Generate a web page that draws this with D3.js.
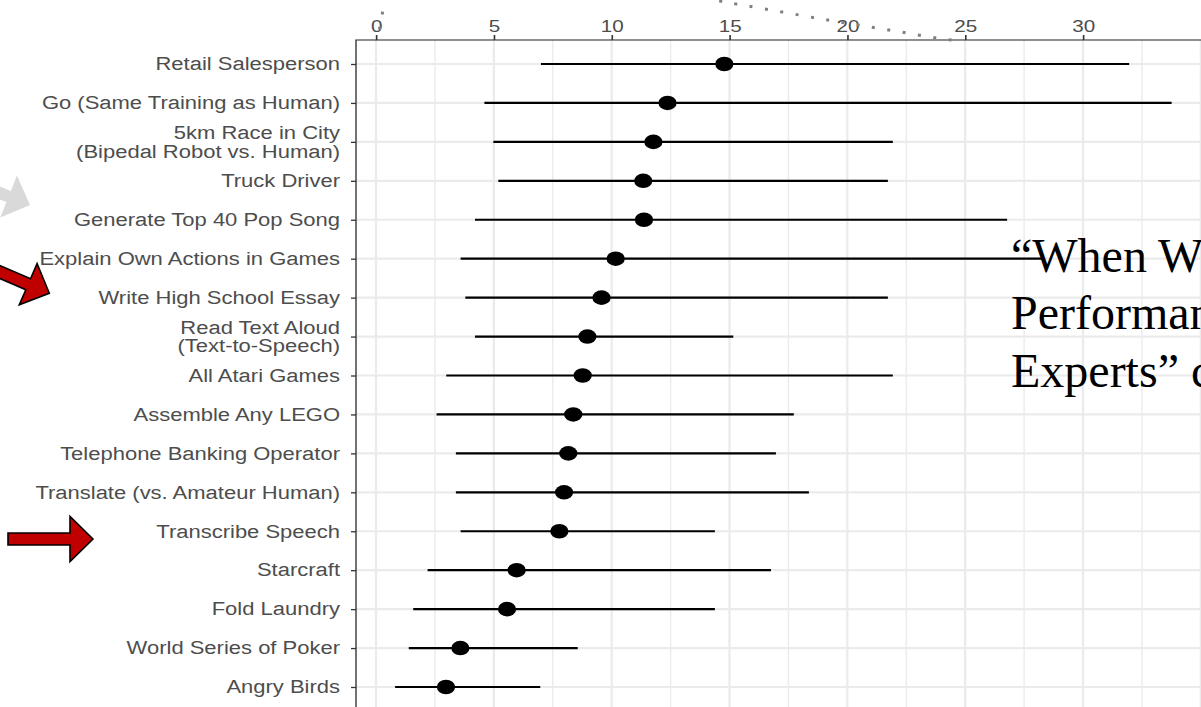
<!DOCTYPE html>
<html><head><meta charset="utf-8">
<script src="https://cdn.jsdelivr.net/npm/d3@7"></script>
<style>html,body{margin:0;padding:0;background:#fff;overflow:hidden}</style>
</head><body><svg id="c" width="1201" height="707"></svg>
<script>
// ---- data ----
const categories = [
  "Retail Salesperson",
  "Go (Same Training as Human)",
  "5km Race in City\n(Bipedal Robot vs. Human)",
  "Truck Driver",
  "Generate Top 40 Pop Song",
  "Explain Own Actions in Games",
  "Write High School Essay",
  "Read Text Aloud\n(Text-to-Speech)",
  "All Atari Games",
  "Assemble Any LEGO",
  "Telephone Banking Operator",
  "Translate (vs. Amateur Human)",
  "Transcribe Speech",
  "Starcraft",
  "Fold Laundry",
  "World Series of Poker",
  "Angry Birds"
];
const medians = [14.78,12.37,11.77,11.34,11.37,10.17,9.57,8.97,8.77,8.37,8.16,7.98,7.78,5.97,5.56,3.58,2.97];
const lower   = [7.0,4.6,4.98,5.19,4.2,3.59,3.79,4.2,2.98,2.57,3.39,3.39,3.59,2.19,1.58,1.39,0.81];
const upper   = [31.96,33.76,21.93,21.72,26.78,28.3,21.72,15.16,21.93,17.73,16.97,18.37,14.38,16.76,14.38,8.56,6.97];
const xTicks = [0,5,10,15,20,25,30];
const titleLines = ["\u201CWhen Will AI Exceed Human","Performance? Evidence from AI","Experts\u201D conducted in 2016"];

// ---- layout ----
const SX = 1.25; // horizontal stretch of the embedded chart image
const svg = d3.select("#c");
const g = svg.append("g").attr("transform", `scale(${SX},1)`);

const x = d3.scaleLinear().domain([0, 30]).range([376 / SX, 1083 / SX]);
const y = d3.scalePoint().domain(categories).range([64, 687]);
const panelL = 356 / SX, panelT = 40, panelR = x(35.45), panelB = 730;

const grid = "#ebebeb";
// minor vertical grid
g.append("g").selectAll("line").data(d3.range(2.5, 35, 5)).join("line")
  .attr("x1", d => x(d)).attr("x2", d => x(d))
  .attr("y1", panelT).attr("y2", panelB)
  .attr("stroke", grid).attr("stroke-width", 1.1);
// major vertical grid
g.append("g").selectAll("line").data(d3.range(0, 36, 5)).join("line")
  .attr("x1", d => x(d)).attr("x2", d => x(d))
  .attr("y1", panelT).attr("y2", panelB)
  .attr("stroke", grid).attr("stroke-width", 1.8);
// horizontal grid
g.append("g").selectAll("line").data(categories).join("line")
  .attr("x1", panelL).attr("x2", panelR)
  .attr("y1", d => y(d)).attr("y2", d => y(d))
  .attr("stroke", grid).attr("stroke-width", 2.2);

// error bars
g.append("g").selectAll("line").data(categories).join("line")
  .attr("x1", (d, i) => x(lower[i])).attr("x2", (d, i) => x(upper[i]))
  .attr("y1", d => y(d)).attr("y2", d => y(d))
  .attr("stroke", "#000").attr("stroke-width", 2.2);
// points
g.append("g").selectAll("circle").data(categories).join("circle")
  .attr("cx", (d, i) => x(medians[i])).attr("cy", d => y(d))
  .attr("r", 7.3).attr("fill", "#000");

// panel border
g.append("rect").attr("x", panelL).attr("y", panelT)
  .attr("width", panelR - panelL).attr("height", panelB - panelT)
  .attr("fill", "none").attr("stroke", "#333").attr("stroke-width", 1.1);

// top axis
const ax = g.append("g").attr("transform", `translate(0,${panelT})`)
  .call(d3.axisTop(x).tickValues(xTicks).tickSize(5).tickPadding(3));
ax.select(".domain").remove();
ax.selectAll(".tick line").attr("stroke", "#333").attr("stroke-width", 1.3);
ax.selectAll(".tick text").attr("fill", "#4d4d4d")
  .style("font-family", "'Liberation Sans', Arial, sans-serif").style("font-size", "16.5px");

// left axis
const ay = g.append("g").attr("transform", `translate(${panelL},0)`)
  .call(d3.axisLeft(y).tickSize(5 / SX).tickPadding(11 / SX));
ay.select(".domain").remove();
ay.selectAll(".tick line").attr("stroke", "#333").attr("stroke-width", 1.3);
ay.selectAll(".tick text").attr("fill", "#4d4d4d")
  .style("font-family", "'Liberation Sans', Arial, sans-serif").style("font-size", "17.6px")
  .each(function(d) {
    const t = d3.select(this);
    const lines = d.split("\n");
    const xx = t.attr("x");
    t.text(null).attr("dy", null);
    lines.forEach((ln, i) => {
      t.append("tspan").attr("x", xx)
        .attr("dy", i === 0 ? (0.33 - (lines.length - 1) * 0.53) + "em" : "1.06em")
        .text(ln);
    });
  });

// ---- annotations (slide overlay) ----
const arrowShape = L => [[0,0],[-23,-22.5],[-23,-6],[-L,-6],[-L,6],[-23,6],[-23,22.5]];
const arrows = [
  {tip:[30,205], angle:21.7, L:120, fill:"#d9d9d9", stroke:"none"},
  {tip:[49.3,293.3], angle:23.3, L:120, fill:"#c00000", stroke:"#000"},
  {tip:[93,539], angle:0, L:85, fill:"#c00000", stroke:"#000"}
];
svg.append("g").selectAll("polygon").data(arrows).join("polygon")
  .attr("points", d => arrowShape(d.L).map(p => p.join(",")).join(" "))
  .attr("transform", d => `translate(${d.tip[0]},${d.tip[1]}) rotate(${d.angle})`)
  .attr("fill", d => d.fill).attr("stroke", d => d.stroke).attr("stroke-width", 1.6)
  .attr("stroke-linejoin", "miter");

const dotted = [
  [[384,-4],[382,16],[379,31]],
  [[704,-2],[742,5],[788,13],[836,21.5],[883,29],[930,37],[960,41]]
];
svg.append("g").selectAll("path").data(dotted).join("path")
  .attr("d", d3.line().curve(d3.curveNatural))
  .attr("fill", "none").attr("stroke", "#808080").attr("stroke-width", 3)
  .attr("stroke-dasharray", "3 12.5");

svg.append("g").selectAll("text").data(titleLines).join("text")
  .attr("x", 1011).attr("y", (d, i) => 271.7 + i * 57.5)
  .attr("fill", "#000")
  .style("font-family", "'Liberation Serif', 'Times New Roman', serif").style("font-size", "48px")
  .text(d => d);
</script></body></html>
